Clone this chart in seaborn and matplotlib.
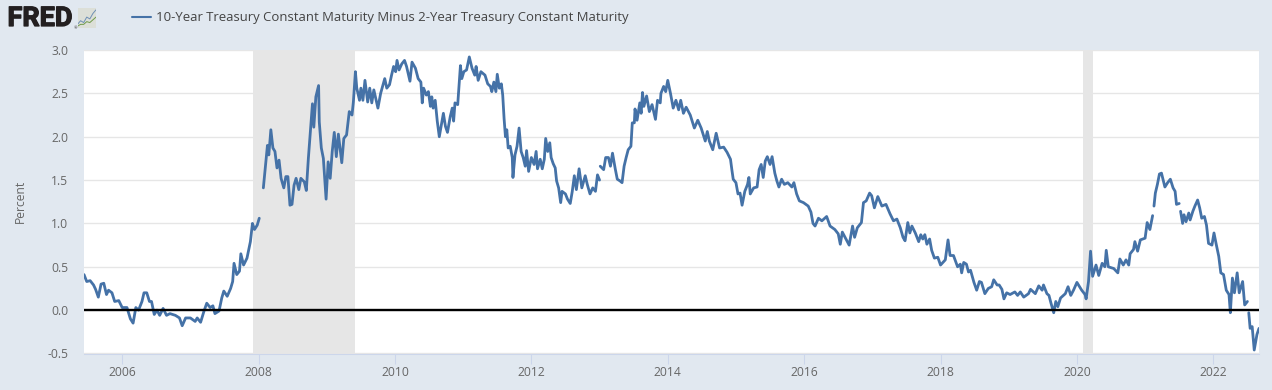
import numpy as np
import pandas as pd
import seaborn as sns
import matplotlib
matplotlib.use("Agg")
import matplotlib.pyplot as plt
import matplotlib.patheffects as pe
from matplotlib.lines import Line2D

TITLE = "10-Year Treasury Constant Maturity Minus 2-Year Treasury Constant Maturity"
YEAR_TICKS = [2006, 2008, 2010, 2012, 2014, 2016, 2018, 2020, 2022]
VALUE_TICKS = [-0.5, 0.0, 0.5, 1.0, 1.5, 2.0, 2.5, 3.0]
RECESSIONS = [(2007.92, 2009.42), (2020.09, 2020.24)]
GAPS = [2008.02, 2008.06, 2013.005, 2021.12, 2021.51, 2022.51]

years_a = [2005.44,2005.48,2005.53,2005.58,2005.61,2005.65,2005.69,2005.73,2005.77,2005.80,2005.85,2005.89,2005.95,2006.0,2006.07,2006.12,2006.16,2006.20,2006.24,2006.29,2006.32,2006.36,2006.40,2006.43,2006.47,2006.51,2006.55,2006.60,2006.65,2006.70,2006.78,2006.84,2006.88,2006.93,2007.0,2007.07,2007.10,2007.15,2007.20,2007.24,2007.29,2007.33,2007.36,2007.42,2007.46,2007.49,2007.54,2007.59,2007.62,2007.64,2007.68,2007.72,2007.74,2007.78,2007.83,2007.88,2007.91,2007.94,2007.98,2008.01,2008.05,2008.07,2008.11,2008.13,2008.15,2008.18,2008.21,2008.24,2008.27,2008.30,2008.33,2008.37,2008.40,2008.43,2008.46,2008.49,2008.52,2008.55,2008.59,2008.62,2008.67,2008.70,2008.73,2008.76,2008.79,2008.81,2008.84,2008.88,2008.89,2008.92,2008.95,2008.98,2008.99,2009.02,2009.05,2009.08,2009.11,2009.14,2009.17,2009.22,2009.25,2009.29,2009.33,2009.37,2009.39]
spread_a = [.41,.33,.34,.29,.24,.15,.30,.31,.18,.23,.20,.10,.11,.03,.03,-.10,-.15,.03,0,.10,.20,.20,.10,.10,-.05,0,-.06,.02,-.06,-.04,-.06,-.09,-.18,-.09,-.09,-.13,-.09,-.14,-.01,.08,.03,.05,-.04,-.01,.14,.22,.16,.25,.33,.54,.41,.45,.65,.52,.60,.79,1.00,.93,.98,1.06,1.27,1.41,1.73,1.90,1.79,2.08,1.87,1.83,1.64,1.73,1.52,1.41,1.54,1.54,1.21,1.22,1.44,1.52,1.39,1.52,1.48,1.38,1.75,2.06,2.38,2.11,2.46,2.59,2.17,1.87,1.75,1.41,1.28,1.71,1.52,1.83,2.05,1.77,2.03,1.70,1.98,2.02,2.29,2.25,2.40]

years_b = [2009.42,2009.44,2009.48,2009.50,2009.53,2009.56,2009.60,2009.63,2009.66,2009.69,2009.75,2009.79,2009.85,2009.88,2009.92,2009.95,2009.98,2010.01,2010.03,2010.06,2010.10,2010.14,2010.17,2010.22,2010.25,2010.30,2010.34,2010.38,2010.40,2010.42,2010.46,2010.49,2010.52,2010.54,2010.56,2010.59,2010.62,2010.65,2010.69,2010.71,2010.74,2010.77,2010.81,2010.84,2010.86,2010.88,2010.92,2010.96,2010.98,2011.01,2011.05,2011.09,2011.13,2011.17,2011.19,2011.22,2011.26,2011.32,2011.36,2011.40,2011.42,2011.45,2011.48,2011.50,2011.53,2011.56,2011.58,2011.60,2011.62,2011.64,2011.66,2011.69,2011.72,2011.73,2011.76,2011.79,2011.82,2011.85,2011.88,2011.91,2011.93,2011.96,2012.0,2012.04,2012.07,2012.09,2012.13,2012.16,2012.19,2012.21,2012.24,2012.27,2012.29,2012.32,2012.35,2012.37,2012.40,2012.43,2012.45,2012.50,2012.53,2012.57,2012.60,2012.63,2012.66,2012.70,2012.74,2012.79,2012.82,2012.86,2012.90,2012.94,2012.97,2013.0,2013.01,2013.06,2013.09,2013.13,2013.16,2013.19,2013.23,2013.26,2013.30]
spread_b = [2.75,2.56,2.42,2.56,2.42,2.65,2.40,2.56,2.39,2.54,2.33,2.50,2.67,2.56,2.60,2.71,2.81,2.75,2.88,2.77,2.84,2.88,2.81,2.64,2.86,2.79,2.67,2.63,2.39,2.56,2.48,2.52,2.35,2.46,2.33,2.42,2.18,2.00,2.18,2.27,2.12,2.05,2.23,2.33,2.18,2.39,2.37,2.82,2.67,2.75,2.77,2.92,2.79,2.71,2.81,2.65,2.75,2.71,2.61,2.58,2.52,2.63,2.52,2.72,2.56,2.61,2.48,2.21,2.00,2.08,1.87,1.89,1.76,1.53,1.79,1.89,2.10,1.83,1.76,1.66,1.84,1.60,1.76,1.68,1.83,1.63,1.74,1.63,1.74,1.98,1.83,1.93,1.76,1.69,1.64,1.49,1.41,1.24,1.37,1.34,1.28,1.23,1.37,1.55,1.39,1.63,1.41,1.55,1.45,1.34,1.41,1.37,1.56,1.50,1.66,1.62,1.76,1.76,1.66,1.81,1.63,1.51,1.49]

years_c = [2013.33,2013.36,2013.39,2013.42,2013.46,2013.48,2013.51,2013.52,2013.55,2013.59,2013.61,2013.63,2013.65,2013.69,2013.73,2013.77,2013.82,2013.85,2013.89,2013.90,2013.94,2013.97,2014.0,2014.04,2014.08,2014.12,2014.16,2014.19,2014.23,2014.27,2014.33,2014.39,2014.44,2014.49,2014.55,2014.58,2014.61,2014.66,2014.71,2014.76,2014.82,2014.87,2014.92,2014.94,2014.96,2015.0,2015.03,2015.06,2015.09,2015.13,2015.17,2015.19,2015.21,2015.26,2015.31,2015.34,2015.37,2015.40,2015.43,2015.46,2015.50,2015.53,2015.57,2015.60,2015.63,2015.67,2015.71,2015.76,2015.82,2015.85,2015.89,2015.93,2015.99,2016.06,2016.10,2016.13,2016.16,2016.21,2016.26,2016.33,2016.38,2016.45,2016.50,2016.53,2016.56,2016.60,2016.66,2016.71,2016.74,2016.78,2016.84,2016.87,2016.91,2016.96,2016.99,2017.03,2017.08,2017.14,2017.20,2017.26,2017.31,2017.36]
spread_c = [1.47,1.66,1.76,1.85,1.89,2.16,2.16,2.32,2.19,2.39,2.27,2.51,2.35,2.47,2.29,2.37,2.20,2.42,2.39,2.50,2.58,2.52,2.65,2.50,2.33,2.42,2.31,2.42,2.27,2.34,2.25,2.10,2.19,2.10,1.95,2.06,1.95,1.85,2.04,1.87,1.88,1.82,1.74,1.62,1.51,1.47,1.34,1.35,1.21,1.37,1.45,1.53,1.34,1.41,1.42,1.62,1.68,1.53,1.72,1.77,1.68,1.77,1.58,1.49,1.42,1.51,1.45,1.47,1.42,1.47,1.34,1.26,1.24,1.20,1.13,1.0,.97,1.06,1.03,1.08,.97,.93,.88,.76,.90,.84,.75,.97,.84,.95,1.01,1.24,1.26,1.35,1.32,1.18,1.31,1.20,1.22,1.11,1.03,1.05]

years_d = [2017.41,2017.45,2017.48,2017.52,2017.55,2017.58,2017.63,2017.68,2017.71,2017.74,2017.77,2017.80,2017.84,2017.87,2017.91,2017.96,2018.0,2018.07,2018.11,2018.14,2018.19,2018.25,2018.29,2018.31,2018.34,2018.38,2018.41,2018.44,2018.49,2018.53,2018.57,2018.60,2018.65,2018.70,2018.75,2018.78,2018.83,2018.86,2018.90,2018.93,2018.97,2019.02,2019.09,2019.13,2019.17,2019.22,2019.29,2019.32,2019.39,2019.44,2019.49,2019.51,2019.56,2019.59,2019.62,2019.66,2019.69,2019.72,2019.76,2019.83,2019.87,2019.91,2019.95,2020.0,2020.07,2020.12,2020.135]
spread_d = [.95,.84,.80,1.01,.89,.97,.89,.79,.87,.82,.87,.76,.82,.69,.60,.61,.52,.58,.81,.63,.63,.50,.53,.43,.55,.53,.44,.46,.32,.23,.33,.32,.19,.25,.27,.35,.29,.29,.24,.13,.20,.18,.21,.17,.21,.15,.19,.24,.19,.28,.23,.29,.19,.17,.08,-.03,.10,.04,.14,.19,.27,.17,.23,.32,.23,.18,.13]

years_e = [2020.17,2020.20,2020.23,2020.28,2020.32,2020.37,2020.41,2020.43,2020.46,2020.54,2020.60,2020.63,2020.68,2020.72,2020.76,2020.78,2020.83,2020.85,2020.89,2020.93,2021.0,2021.03,2021.07,2021.11,2021.13,2021.15,2021.18,2021.21,2021.24,2021.29,2021.33,2021.37,2021.41,2021.44,2021.46,2021.50,2021.52,2021.55,2021.57,2021.60,2021.64,2021.66,2021.70,2021.73,2021.77,2021.80,2021.83,2021.87,2021.90,2021.93,2021.98,2022.01,2022.04,2022.08,2022.11,2022.15,2022.19,2022.23,2022.25,2022.28,2022.31,2022.35,2022.38,2022.43,2022.46,2022.50,2022.52,2022.54,2022.57,2022.60,2022.64,2022.67]
spread_e = [.33,.68,.39,.52,.40,.54,.50,.69,.50,.48,.43,.59,.52,.58,.52,.65,.70,.79,.68,.81,.83,1.01,.93,1.09,1.20,1.35,1.45,1.57,1.58,1.42,1.47,1.51,1.41,1.37,1.22,1.23,1.14,1.0,1.10,1.02,1.12,1.04,1.14,1.20,1.27,1.18,1.06,1.08,.98,.77,.75,.89,.77,.62,.43,.41,.23,.18,-.03,.37,.20,.43,.20,.33,.06,.10,-.03,-.21,-.19,-.46,-.28,-.21]

years = years_a + years_b + years_c + years_d + years_e
spread = spread_a + spread_b + spread_c + spread_d + spread_e

df = pd.DataFrame({"year": years, "spread": spread})
df["segment"] = np.searchsorted(GAPS, df["year"])

W, H = 1272, 390
BG = "#E1E8F0"
BLUE = "#4572A7"
GREY = "#E6E6E6"
TXT = "#666666"

sns.set_theme(style="white")
plt.rcParams["font.family"] = ["Open Sans", "DejaVu Sans"]
plt.rcParams["axes.unicode_minus"] = False

fig = plt.figure(figsize=(W / 100, H / 100), dpi=100, facecolor=BG)
ax = fig.add_axes([84 / W, 1 - 353.5 / H, (1259 - 84) / W, (353.5 - 50) / H], facecolor="white")

ax.set_yticks(VALUE_TICKS)
ax.yaxis.grid(True, color=GREY, lw=1.0, zorder=0)
ax.set_axisbelow(True)
for start, end in RECESSIONS:
    ax.axvspan(start, end, color=GREY, lw=0, zorder=1)

sns.lineplot(data=df, x="year", y="spread", units="segment", estimator=None,
             color=BLUE, lw=2.0, ax=ax, zorder=2, legend=False)
ax.axhline(0, color="black", lw=1.7, zorder=3)

ax.set_xlim(2005.44, 2022.67)
ax.set_ylim(-0.5, 3.0)
ax.set_xticks(YEAR_TICKS)
ax.set_xticklabels([str(y) for y in YEAR_TICKS])
ax.set_yticklabels([f"{v:.1f}" for v in VALUE_TICKS])
ax.tick_params(axis="x", length=7.5, width=0.75, color="#CCD6EB", labelsize=8.7, labelcolor=TXT, pad=1.5, bottom=True)
ax.tick_params(axis="y", length=0, labelsize=8.7, labelcolor=TXT, pad=11.5)
ax.set_xlabel("")
ax.set_ylabel("Percent", fontsize=8.7, color=TXT, va="center")
ax.yaxis.set_label_coords((20 - 84) / (1259 - 84), 0.5)
for side in ("top", "right", "left"):
    ax.spines[side].set_visible(False)
ax.spines["bottom"].set_color("#CCD6EB")
ax.spines["bottom"].set_linewidth(0.75)

handle = Line2D([], [], color=BLUE, lw=1.5)
fig.legend([handle], [TITLE], loc="center left", bbox_to_anchor=(132 / W, 1 - 18 / H), frameon=False,
           fontsize=9.45, labelcolor="#444444", handlelength=1.45, handletextpad=0.38, borderpad=0, borderaxespad=0)

fig.text(7.5 / W, 1 - 18.5 / H, "FRED", family="Roboto", weight="bold", fontsize=19.5,
         color="#231F20", va="center", ha="left",
         path_effects=[pe.withStroke(linewidth=0.9, foreground="#231F20")])
fig.text(73.5 / W, 1 - 28 / H, "®", fontsize=3, color="#231F20", va="center", ha="left")

icon = fig.add_axes([77.5 / W, 1 - 28 / H, 18.5 / W, 20 / H], facecolor="#DCDFD8")
icon_x = [0, 1, 2, 3, 4, 5, 6]
icon_blue = [2, 4, 3, 6, 5, 8, 10]
icon_green = [1, 2, 2, 3.5, 3, 4.5, 6]
sns.lineplot(x=icon_x, y=icon_blue, color="#6E8FB5", lw=0.7, ax=icon)
sns.lineplot(x=icon_x, y=icon_green, color="#6F9A4A", lw=0.7, ax=icon)
icon.set_xlim(0, 6)
icon.set_ylim(0, 11)
icon.set_xticks([])
icon.set_yticks([])
icon.set_xlabel("")
icon.set_ylabel("")
for s in icon.spines.values():
    s.set_visible(False)

fig.savefig("out.png", dpi=100, facecolor=BG)
